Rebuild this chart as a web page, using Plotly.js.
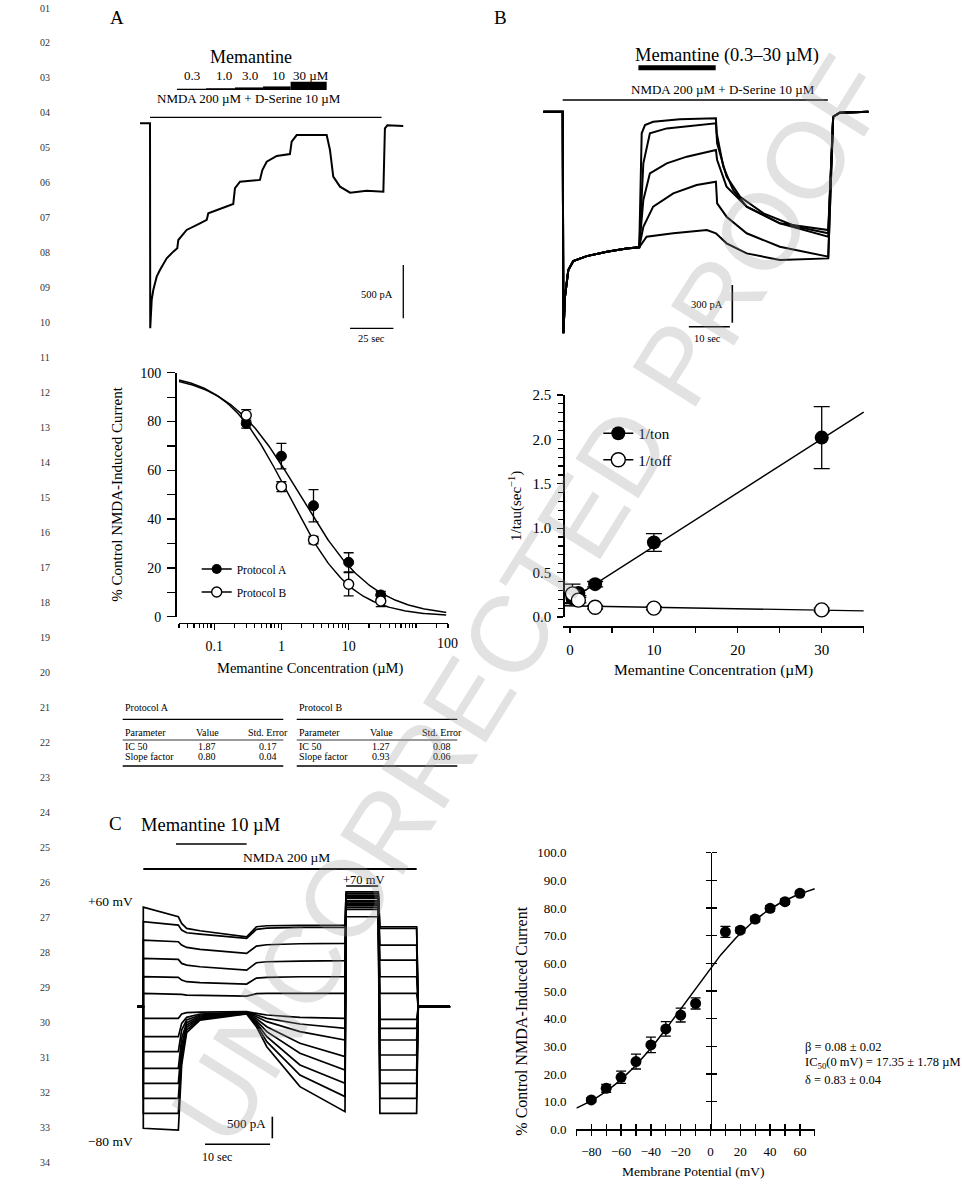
<!DOCTYPE html>
<html><head><meta charset="utf-8">
<script src="https://cdn.plot.ly/plotly-3.0.1.min.js"></script>
<style>html,body{margin:0;padding:0;background:#fff;} #chart{width:963px;height:1184px;}</style>
</head><body><div id="chart"></div>
<script>
// ================= DATA =================
// Panel A trace (time s, current pA)
const aTime = [0, 5.77, 5.9, 6.75, 7.67, 9.63, 11.5, 15.4, 19.2, 21.5, 22.1, 26.9, 34.6, 38.5, 39.4, 44.2, 53.8, 54.8, 57.7, 69.2, 70.6, 73.1, 78.9, 86.5, 87.5, 90.4, 107.7, 109.6, 111.5, 115.4, 121.2, 130.8, 140.4, 141.3, 142.7, 151.9];
const aCurrent = [0, 0, -1922, -1656, -1563, -1438, -1375, -1266, -1203, -1172, -1094, -1000, -938, -906, -844, -813, -756, -609, -547, -531, -438, -360, -306, -288, -172, -110, -110, -250, -500, -594, -650, -632, -641, -47, -19, -25];
const aMemConc = [0.3, 1.0, 3.0, 10, 30];
const aMemStepTime = [21.3, 38.1, 54.8, 71.0, 86.9, 107.7];
const aNmdaTime = [5.77, 139.4];

// Panel B traces
const bPreTime = [0, 4.73, 4.9, 5.3, 6.1, 7.3, 10.6, 15.5, 20.3, 23.4];
const bPreCurrent = [0, 0, -1764, -1470, -1260, -1190, -1150, -1115, -1090, -1080];
const bConc = [30, 10, 3, 1, 0.3];
const bTime = [
  [24.0, 24.8, 26.8, 33.3, 42.1, 42.3, 43.9, 46.3, 49.6, 57.7, 69.5],
  [24.4, 26.0, 30.1, 42.1, 42.4, 44.7, 48.0, 53.7, 61.8, 69.5],
  [24.4, 26.0, 30.1, 35.0, 42.1, 42.4, 44.7, 49.6, 57.7, 69.5],
  [24.4, 26.8, 31.7, 37.4, 42.1, 42.4, 44.7, 49.6, 57.7, 69.5],
  [25.2, 31.7, 39.9, 42.1, 44.7, 49.6, 57.7, 69.5]
];
const bCurrent = [
  [-172, -106, -80, -61, -53, -172, -438, -624, -756, -889, -942],
  [-411, -172, -133, -93, -252, -517, -677, -809, -916, -968],
  [-703, -491, -411, -358, -305, -385, -597, -756, -889, -995],
  [-916, -756, -650, -584, -557, -730, -836, -968, -1075, -1154],
  [-995, -968, -942, -968, -1048, -1128, -1181, -1168]
];
const bEndTime = [70.7, 72.3, 79.3];
const bEndCurrent = [-40, -8, 0];
const bMemTime = [23.2, 42.05];
const bNmdaTime = [4.73, 69.4];

// Panel C traces (holding potentials, mV) and current levels (pA) at each epoch time (s)
const cVolt = [60, 50, 40, 30, 20, 10, -10, -20, -30, -40, -50, -60, -70, -80];
const cEpochTime = [-0.92, 0, 0, 5.39, 5.9, 6.67, 8.72, 15.9, 17.4, 19.0, 24.1, 31.03, 31.2, 36.15, 36.4, 42.05, 42.3, 47.2];
const cStart   = [2300, 1962, 1538, 1115, 692, 308, -269, -692, -1038, -1423, -1769, -2115, -2462, -2808];
const cPreMem  = [2077, 1885, 1500, 1092, 677, 300, -269, -692, -1038, -1423, -1769, -2115, -2462, -2850];
const cMem1    = [1923, 1769, 1423, 1000, 615, 285, -169, -385, -538, -731, -885, -1038, -1192, -1346];
const cMem2    = [1808, 1708, 1369, 962, 577, 269, -138, -246, -308, -369, -423, -477, -538, -600];
const cMem3    = [1754, 1677, 1323, 923, 554, 262, -123, -169, -192, -215, -238, -262, -285, -308];
const cMemEnd  = [1615, 1577, 1231, 846, 523, 246, -115, -123, -131, -138, -146, -154, -162, -169];
const cWash1   = [1846, 1785, 1400, 1015, 662, 300, -154, -192, -231, -277, -323, -369, -415, -462];
const cWash2   = [1869, 1815, 1431, 1038, 677, 308, -192, -269, -346, -462, -577, -692, -808, -923];
const cWash3   = [1877, 1831, 1454, 1054, 692, 308, -246, -400, -577, -846, -1077, -1346, -1577, -1846];
const cWashEnd = [1885, 1831, 1462, 1062, 692, 308, -269, -500, -769, -1154, -1462, -1769, -2077, -2423];
const cStep70  = [2654, 2615, 2577, 2554, 2523, 2500, 2446, 2423, 2385, 2362, 2331, 2292, 2246, 2077];
const cPost    = [1846, 1808, 1423, 1077, 692, 308, -292, -500, -769, -1115, -1462, -1769, -2115, -2462];
const cMemTime = [5.03, 15.9];
const cNmdaTime = [0, 42.06];
const c70Time = [31.2, 36.15];

// Concentration-response (Protocol A / B)
const doseConc = [0.3, 1, 3, 10, 30];
const protoA = [79.2, 65.8, 45.5, 22.3, 8.9];
const protoAErr = [1.9, 5.2, 6.6, 3.9, 1.5];
const protoB = [82.6, 53.3, 31.4, 13.3, 6.4];
const protoBErr = [2.3, 2.0, 1.5, 4.8, 2.3];
// Fit table
const paramNames = ['IC 50', 'Slope factor'];
const protoAFit = [1.87, 0.80];
const protoAFitSE = [0.17, 0.04];
const protoBFit = [1.27, 0.93];
const protoBFitSE = [0.08, 0.06];

// Kinetics
const kinConc = [0.3, 1, 3, 10, 30];
const invTauOn = [0.21, 0.27, 0.37, 0.84, 2.02];
const invTauOnErr = [0.05, 0.03, 0.03, 0.10, 0.35];
const invTauOff = [0.26, 0.19, 0.11, 0.10, 0.08];
const invTauOffErr = [0.11, 0.03, 0.02, 0.02, 0.02];
const onFit = [0.0605, 0.19];   // slope, intercept
const offFit = [-0.0016, 0.125];
const kinFitRange = [-0.6, 35];

// Voltage dependence
const vm = [-80, -70, -60, -50, -40, -30, -20, -10, 10, 20, 30, 40, 50, 60];
const pctCtrl = [10.6, 14.8, 18.8, 24.5, 30.5, 36.3, 41.3, 45.5, 71.4, 72.0, 76.0, 79.9, 82.3, 85.3];
const pctErr = [0.8, 1.4, 2.2, 2.7, 2.8, 2.6, 2.5, 2.0, 2.0, 1.0, 1.0, 1.0, 1.0, 0.8];
const betaFit = [0.08, 0.02];
const ic50Fit = [17.35, 1.78];
const deltaFit = [0.83, 0.04];
const memC = 10;       // µM
const RTF = 25.3;      // mV

// ================= HELPERS =================
const W = 963, H = 1184;
const SERIF = '"Liberation Serif", "Times New Roman", serif';
const xdom = (l, r) => [l / W, r / W];
const ydom = (t, b) => [1 - b / H, 1 - t / H];
const rangeX = (l, r, x0, s) => [(l - x0) / s, (r - x0) / s];
const rangeY = (t, b, y0, s) => [(y0 - b) / s, (y0 - t) / s];
function T(text, x, y, size, xanchor, extra) {
  return Object.assign({text: text, x: x / W, y: 1 - y / H, xref: 'paper', yref: 'paper', showarrow: false,
    xanchor: xanchor || 'center', yanchor: 'middle', font: {family: SERIF, size: size, color: '#000'}}, extra || {});
}
const BLK = '#000';
const traces = [];
const shapes = [];
const annotations = [];

// ================= PANEL A TRACE =================
traces.push({x: aTime, y: aCurrent, xaxis: 'x', yaxis: 'y', mode: 'lines', line: {color: BLK, width: 2}, showlegend: false, hoverinfo: 'skip'});
const aSy = 0.10667;
shapes.push({type: 'line', xref: 'x', yref: 'y', x0: aNmdaTime[0], x1: aNmdaTime[1], y0: 56, y1: 56, line: {color: BLK, width: 1.3}});
const stairPx = [1.3, 1.8, 2.6, 3.6, 8.3];
for (let i = 0; i < aMemConc.length; i++) {
  shapes.push({type: 'rect', xref: 'x', yref: 'y', x0: aMemStepTime[i], x1: aMemStepTime[i + 1], y0: 312, y1: 312 + stairPx[i] / aSy, fillcolor: BLK, line: {width: 0}});
}
shapes.push({type: 'line', xref: 'x', yref: 'y', x0: 151.9, x1: 151.9, y0: -1328, y1: -1828, line: {color: BLK, width: 1.3}});
shapes.push({type: 'line', xref: 'x', yref: 'y', x0: 121.2, x1: 146.2, y0: -1922, y1: -1922, line: {color: BLK, width: 1.3}});
const aConcX = [191.7, 224, 250, 278.3, 310.7];
aMemConc.forEach((c, i) => annotations.push(T(c.toFixed(c < 10 ? 1 : 0) + (i === aMemConc.length - 1 ? ' µM' : ''), aConcX[i], 75, 13)));
annotations.push(T('Memantine', 250.7, 57.3, 18));
annotations.push(T('NMDA 200 µM + D-Serine 10 µM', 249, 98.3, 13));
annotations.push(T('500 pA', 377.3, 295, 10.5));
annotations.push(T('25 sec', 371.7, 338, 10.5));
annotations.push(T('A', 117, 17, 19));

// ================= PANEL B TRACE =================
for (let i = 0; i < bConc.length; i++) {
  traces.push({x: bPreTime.concat(bTime[i], bEndTime), y: bPreCurrent.concat(bCurrent[i], bEndCurrent),
    xaxis: 'x2', yaxis: 'y2', mode: 'lines', line: {color: BLK, width: 2}, showlegend: false, hoverinfo: 'skip', name: bConc[i] + ' µM'});
}
shapes.push({type: 'line', xref: 'x2', yref: 'y2', x0: bMemTime[0], x1: bMemTime[1], y0: 350, y1: 350, line: {color: BLK, width: 5}});
shapes.push({type: 'line', xref: 'x2', yref: 'y2', x0: bNmdaTime[0], x1: bNmdaTime[1], y0: 93, y1: 93, line: {color: BLK, width: 1.3}});
shapes.push({type: 'line', xref: 'x2', yref: 'y2', x0: 46.1, x1: 46.1, y0: -1380, y1: -1680, line: {color: BLK, width: 1.6}});
shapes.push({type: 'line', xref: 'x2', yref: 'y2', x0: 35.5, x1: 45.5, y0: -1712, y1: -1712, line: {color: BLK, width: 1.6}});
annotations.push(T('Memantine (0.3–30 µM)', 727.3, 56, 18.5));
annotations.push(T('NMDA 200 µM + D-Serine 10 µM', 722.7, 89.3, 13));
annotations.push(T('300 pA', 706.7, 305, 10.5));
annotations.push(T('10 sec', 707, 338, 10.5));
annotations.push(T('B', 500, 17, 19));

// ================= CONCENTRATION-RESPONSE =================
const hillX = [];
for (let e = -1.57; e <= 2.451; e += 0.02) hillX.push(Math.pow(10, e));
const hill = (p) => hillX.map(c => 100 / (1 + Math.pow(c / p[0], p[1])));
traces.push({x: hillX, y: hill(protoAFit), xaxis: 'x3', yaxis: 'y3', mode: 'lines', line: {color: BLK, width: 1.5}, showlegend: false, hoverinfo: 'skip'});
traces.push({x: hillX, y: hill(protoBFit), xaxis: 'x3', yaxis: 'y3', mode: 'lines', line: {color: BLK, width: 1.5}, showlegend: false, hoverinfo: 'skip'});
traces.push({x: doseConc, y: protoA, xaxis: 'x3', yaxis: 'y3', mode: 'markers', cliponaxis: false, showlegend: false,
  marker: {size: 10, color: BLK, line: {color: BLK, width: 1}},
  error_y: {type: 'data', array: protoAErr, color: BLK, thickness: 1.3, width: 5}});
traces.push({x: doseConc, y: protoB, xaxis: 'x3', yaxis: 'y3', mode: 'markers', cliponaxis: false, showlegend: false,
  marker: {size: 10, color: '#fff', line: {color: BLK, width: 1.4}},
  error_y: {type: 'data', array: protoBErr, color: BLK, thickness: 1.3, width: 5}});
traces.push({x: [null], y: [null], xaxis: 'x3', yaxis: 'y3', mode: 'lines+markers', name: 'Protocol A', legend: 'legend', legendgroup: 'a',
  marker: {size: 10, color: BLK}, line: {color: BLK, width: 1.5}});
traces.push({x: [null], y: [null], xaxis: 'x3', yaxis: 'y3', mode: 'lines+markers', name: 'Protocol B', legend: 'legend', legendgroup: 'b',
  marker: {size: 10, color: '#fff', line: {color: BLK, width: 1.4}}, line: {color: BLK, width: 1.5}});
annotations.push(T('% Control NMDA-Induced Current', 116.7, 494, 15, 'center', {textangle: -90}));
annotations.push(T('Memantine Concentration (µM)', 310, 668.3, 14.5));
annotations.push(T('100', 447, 643.5, 14));

// ================= TABLE =================
function table(x0, x1, title, vals, ses) {
  const lines = [[719.3, 1.3], [740, 0.8], [766, 1.5]];
  lines.forEach(l => shapes.push({type: 'line', xref: 'paper', yref: 'paper', x0: x0 / W, x1: x1 / W, y0: 1 - l[0] / H, y1: 1 - l[0] / H, line: {color: BLK, width: l[1]}}));
  const cv = x0 + 84.6, cs = x0 + 145.6;
  annotations.push(T(title, x0 + 0.6, 707.3, 10, 'left'));
  annotations.push(T('Parameter', x0 + 0.6, 732.7, 10, 'left'));
  annotations.push(T('Value', cv, 732.7, 10));
  annotations.push(T('Std. Error', cs, 732.7, 10));
  const rowY = [746.7, 756.7];
  paramNames.forEach((p, i) => {
    annotations.push(T(p, x0 + 0.6, rowY[i], 10, 'left'));
    annotations.push(T(vals[i].toFixed(2), cv, rowY[i], 10));
    annotations.push(T(ses[i].toFixed(2), cs, rowY[i], 10));
  });
}
table(122.7, 283.3, 'Protocol A', protoAFit, protoAFitSE);
table(296.7, 457.3, 'Protocol B', protoBFit, protoBFitSE);

// ================= KINETICS =================
const lin = (p) => kinFitRange.map(c => p[0] * c + p[1]);
traces.push({x: kinFitRange, y: lin(onFit), xaxis: 'x4', yaxis: 'y4', mode: 'lines', line: {color: BLK, width: 1.4}, showlegend: false, hoverinfo: 'skip'});
traces.push({x: kinFitRange, y: lin(offFit), xaxis: 'x4', yaxis: 'y4', mode: 'lines', line: {color: BLK, width: 1.4}, showlegend: false, hoverinfo: 'skip'});
traces.push({x: kinConc, y: invTauOn, xaxis: 'x4', yaxis: 'y4', mode: 'markers', cliponaxis: false, showlegend: false,
  marker: {size: 14, color: BLK}, error_y: {type: 'data', array: invTauOnErr, color: BLK, thickness: 1.3, width: 8}});
traces.push({x: kinConc, y: invTauOff, xaxis: 'x4', yaxis: 'y4', mode: 'markers', cliponaxis: false, showlegend: false,
  marker: {size: 14, color: '#fff', line: {color: BLK, width: 1.4}}, error_y: {type: 'data', array: invTauOffErr, color: BLK, thickness: 1.3, width: 8}});
traces.push({x: [null], y: [null], xaxis: 'x4', yaxis: 'y4', mode: 'lines+markers', name: '1/ton', legend: 'legend2', legendgroup: 'on',
  marker: {size: 14, color: BLK}, line: {color: BLK, width: 1.4}});
traces.push({x: [null], y: [null], xaxis: 'x4', yaxis: 'y4', mode: 'lines+markers', name: '1/toff', legend: 'legend2', legendgroup: 'off',
  marker: {size: 14, color: '#fff', line: {color: BLK, width: 1.4}}, line: {color: BLK, width: 1.4}});
annotations.push(T('1/tau(sec<sup>−1</sup>)', 515, 506, 15, 'center', {textangle: -90}));
annotations.push(T('Memantine Concentration (µM)', 713.3, 670, 15.5));

// ================= PANEL C TRACE =================
for (let i = 0; i < cVolt.length; i++) {
  const y = [0, 0, cStart[i], cPreMem[i], cMem1[i], cMem2[i], cMem3[i], cMemEnd[i], cWash1[i], cWash2[i], cWash3[i], cWashEnd[i], cStep70[i], cStep70[i], cPost[i], cPost[i], 0, 0];
  traces.push({x: cEpochTime, y: y, xaxis: 'x5', yaxis: 'y5', mode: 'lines', line: {color: BLK, width: 1.7}, showlegend: false, hoverinfo: 'skip', name: cVolt[i] + ' mV'});
}
shapes.push({type: 'line', xref: 'x5', yref: 'y5', x0: cMemTime[0], x1: cMemTime[1], y0: 3757, y1: 3757, line: {color: BLK, width: 1.6}});
shapes.push({type: 'line', xref: 'x5', yref: 'y5', x0: cNmdaTime[0], x1: cNmdaTime[1], y0: 3180, y1: 3180, line: {color: BLK, width: 2}});
shapes.push({type: 'line', xref: 'x5', yref: 'y5', x0: c70Time[0], x1: c70Time[1], y0: 2788, y1: 2788, line: {color: BLK, width: 1.5}});
shapes.push({type: 'line', xref: 'x5', yref: 'y5', x0: 19.85, x1: 19.85, y0: -2540, y1: -3040, line: {color: BLK, width: 1.6}});
shapes.push({type: 'line', xref: 'x5', yref: 'y5', x0: 9.5, x1: 19.5, y0: -3178, y1: -3178, line: {color: BLK, width: 1.6}});
annotations.push(T('Memantine 10 µM', 210, 825, 18.5));
annotations.push(T('NMDA 200 µM', 286.7, 857.7, 13.5));
annotations.push(T('+70 mV', 363.3, 880, 12.5));
annotations.push(T('+60 mV', 135, 901.7, 13.5, 'right'));
annotations.push(T('−80 mV', 135, 1141.7, 13.5, 'right'));
annotations.push(T('500 pA', 268, 1123.3, 13, 'right'));
annotations.push(T('10 sec', 216.7, 1156.7, 12));
annotations.push(T('C', 115, 823, 19));

// ================= VOLTAGE DEPENDENCE =================
const vCurve = [], pCurve = [];
for (let v = -90; v <= 70; v += 1) {
  vCurve.push(v);
  pCurve.push(100 * (1 - betaFit[0]) / (1 + memC / (ic50Fit[0] * Math.exp(deltaFit[0] * v / RTF))));
}
traces.push({x: vCurve, y: pCurve, xaxis: 'x6', yaxis: 'y6', mode: 'lines', line: {color: BLK, width: 1.5}, showlegend: false, hoverinfo: 'skip'});
traces.push({x: vm, y: pctCtrl, xaxis: 'x7', yaxis: 'y7', mode: 'markers', cliponaxis: false, showlegend: false,
  marker: {size: 11, color: BLK}, error_y: {type: 'data', array: pctErr, color: BLK, thickness: 1.3, width: 5}});
traces.push({x: [null], y: [null], xaxis: 'x6', yaxis: 'y8', mode: 'markers', showlegend: false, hoverinfo: 'skip'});
annotations.push(T('% Control NMDA-Induced Current', 521.7, 1021, 16, 'center', {textangle: -90}));
annotations.push(T('Membrane Potential (mV)', 693.3, 1171.7, 13.5));
annotations.push(T('β = ' + betaFit[0].toFixed(2) + ' ± ' + betaFit[1].toFixed(2), 803.3, 1046.7, 12.5, 'left'));
annotations.push(T('IC<sub>50</sub>(0 mV) = ' + ic50Fit[0].toFixed(2) + ' ± ' + ic50Fit[1].toFixed(2) + ' µM', 803.3, 1062.7, 12.5, 'left'));
annotations.push(T('δ = ' + deltaFit[0].toFixed(2) + ' ± ' + deltaFit[1].toFixed(2), 803.3, 1080, 12.5, 'left'));

// ================= LINE NUMBERS & WATERMARK =================
for (let k = 1; k <= 34; k++) {
  annotations.push(T((k < 10 ? '0' : '') + k, 45, 8 + (k - 1) * 34.97, 10, 'center', {font: {family: SERIF, size: 10, color: '#333'}}));
}
annotations.push(T('UNCORRECTED PROOF', 530, 600, 108, 'center', {textangle: -58, font: {family: '"Liberation Sans", Arial, sans-serif', size: 108, color: 'rgba(150,150,150,0.28)'}}));

// ================= LAYOUT =================
const hidden = {visible: false, fixedrange: true};
const tickFont = (s) => ({family: SERIF, size: s, color: BLK});
const layout = {
  width: W, height: H, margin: {l: 0, r: 0, t: 0, b: 0},
  paper_bgcolor: '#fff', plot_bgcolor: 'rgba(0,0,0,0)',
  font: {family: SERIF, color: BLK},
  showlegend: true,
  xaxis: Object.assign({domain: xdom(130, 420), range: rangeX(130, 420, 140, 1.7333), anchor: 'y'}, hidden),
  yaxis: Object.assign({domain: ydom(45, 345), range: rangeY(45, 345, 123.3, aSy), anchor: 'x'}, hidden),
  xaxis2: Object.assign({domain: xdom(535, 875), range: rangeX(535, 875, 543.3, 4.1), anchor: 'y2'}, hidden),
  yaxis2: Object.assign({domain: ydom(40, 345), range: rangeY(40, 345, 111.7, 0.1256), anchor: 'x2'}, hidden),
  xaxis5: Object.assign({domain: xdom(100, 460), range: rangeX(100, 460, 143.3, 6.5), anchor: 'y5'}, hidden),
  yaxis5: Object.assign({domain: ydom(815, 1165), range: rangeY(815, 1165, 1006.7, 0.0433), anchor: 'x5'}, hidden),
  // concentration-response
  xaxis3: {domain: xdom(179, 448), type: 'log', range: [Math.log10(0.03), Math.log10(300)], anchor: 'free', position: 1 - 622.7 / H,
    showline: true, linecolor: BLK, linewidth: 1.5, showgrid: false, zeroline: false,
    tickmode: 'array', tickvals: [0.1, 1, 10], ticktext: ['0.1', '1', '10'], ticks: 'outside', ticklen: 6, tickwidth: 1.2, tickcolor: BLK,
    minor: {dtick: 'D1', ticks: 'outside', ticklen: 4, tickwidth: 1.2, tickcolor: BLK, showgrid: false},
    tickfont: tickFont(14), ticklabelstandoff: 4},
  yaxis3: {domain: ydom(372.7, 616.7), range: [0, 100], anchor: 'free', position: 175 / W,
    showline: true, linecolor: BLK, linewidth: 1.5, showgrid: false, zeroline: false,
    dtick: 20, ticks: 'outside', ticklen: 8, tickwidth: 1.2, tickcolor: BLK,
    minor: {dtick: 10, ticks: 'outside', ticklen: 8, tickwidth: 1.2, tickcolor: BLK, showgrid: false},
    tickfont: tickFont(14), ticklabelstandoff: 3},
  // kinetics
  xaxis4: {domain: xdom(563, 864), range: [-0.83, 35.04], anchor: 'free', position: 1 - 626 / H,
    showline: true, linecolor: BLK, linewidth: 1.5, showgrid: false, zeroline: false,
    tick0: 0, dtick: 10, ticks: 'outside', ticklen: 5, tickwidth: 1.2, tickcolor: BLK,
    minor: {tick0: 0, dtick: 5, ticks: 'outside', ticklen: 5, tickwidth: 1.2, tickcolor: BLK, showgrid: false},
    tickfont: tickFont(15), ticklabelstandoff: 4},
  yaxis4: {domain: ydom(395, 617), range: [0, 2.5], anchor: 'free', position: 563.3 / W,
    showline: true, linecolor: BLK, linewidth: 1.5, showgrid: false, zeroline: false,
    dtick: 0.5, tickformat: '.1f', ticks: 'outside', ticklen: 6, tickwidth: 1.2, tickcolor: BLK,
    minor: {dtick: 0.1, ticks: 'outside', ticklen: 5, tickwidth: 1.2, tickcolor: BLK, showgrid: false},
    tickfont: tickFont(15), ticklabelstandoff: 3},
  // voltage dependence
  xaxis6: {domain: xdom(576.4, 814.8), range: [-90, 70], anchor: 'y6',
    showline: true, linecolor: BLK, linewidth: 1.6, showgrid: false, zeroline: false,
    tick0: 0, dtick: 20, ticks: 'outside', ticklen: 5, tickwidth: 1.4, tickcolor: BLK,
    minor: {tick0: 0, dtick: 10, ticks: 'outside', ticklen: 5, tickwidth: 1.4, tickcolor: BLK, showgrid: false},
    tickfont: tickFont(13), ticklabelstandoff: 4},
  xaxis7: {overlaying: 'x6', range: [-90, 70], anchor: 'y6', showline: false, showgrid: false, zeroline: false,
    tick0: 0, dtick: 10, ticks: 'inside', ticklen: 5, tickwidth: 1.4, tickcolor: BLK, showticklabels: false},
  yaxis6: {domain: ydom(852.7, 1129.3), range: [0, 100], anchor: 'free', position: 576.4 / W,
    showline: false, showgrid: false, zeroline: false, dtick: 10, tickformat: '.1f', ticks: '',
    tickfont: tickFont(13), ticklabelstandoff: 10},
  yaxis7: {overlaying: 'y6', range: [0, 100], anchor: 'free', position: 710.5 / W,
    showline: true, linecolor: BLK, linewidth: 1.6, showgrid: false, zeroline: false,
    dtick: 10, ticks: 'outside', ticklen: 5, tickwidth: 1.4, tickcolor: BLK, showticklabels: false},
  yaxis8: {overlaying: 'y6', range: [0, 100], anchor: 'free', position: 710.5 / W, side: 'right',
    showline: false, showgrid: false, zeroline: false,
    dtick: 10, ticks: 'outside', ticklen: 5, tickwidth: 1.4, tickcolor: BLK, showticklabels: false},
  legend: {x: 196.7 / W, y: 1 - 554.5 / H, xanchor: 'left', yanchor: 'top', bgcolor: 'rgba(0,0,0,0)', borderwidth: 0,
    traceorder: 'grouped', tracegroupgap: 4, font: {family: SERIF, size: 11.5, color: BLK}},
  legend2: {x: 598.3 / W, y: 1 - 417 / H, xanchor: 'left', yanchor: 'top', bgcolor: 'rgba(0,0,0,0)', borderwidth: 0,
    traceorder: 'grouped', tracegroupgap: 4, font: {family: SERIF, size: 15, color: BLK}},
  shapes: shapes,
  annotations: annotations
};
Plotly.newPlot('chart', traces, layout, {staticPlot: true, displayModeBar: false});
</script></body></html>
